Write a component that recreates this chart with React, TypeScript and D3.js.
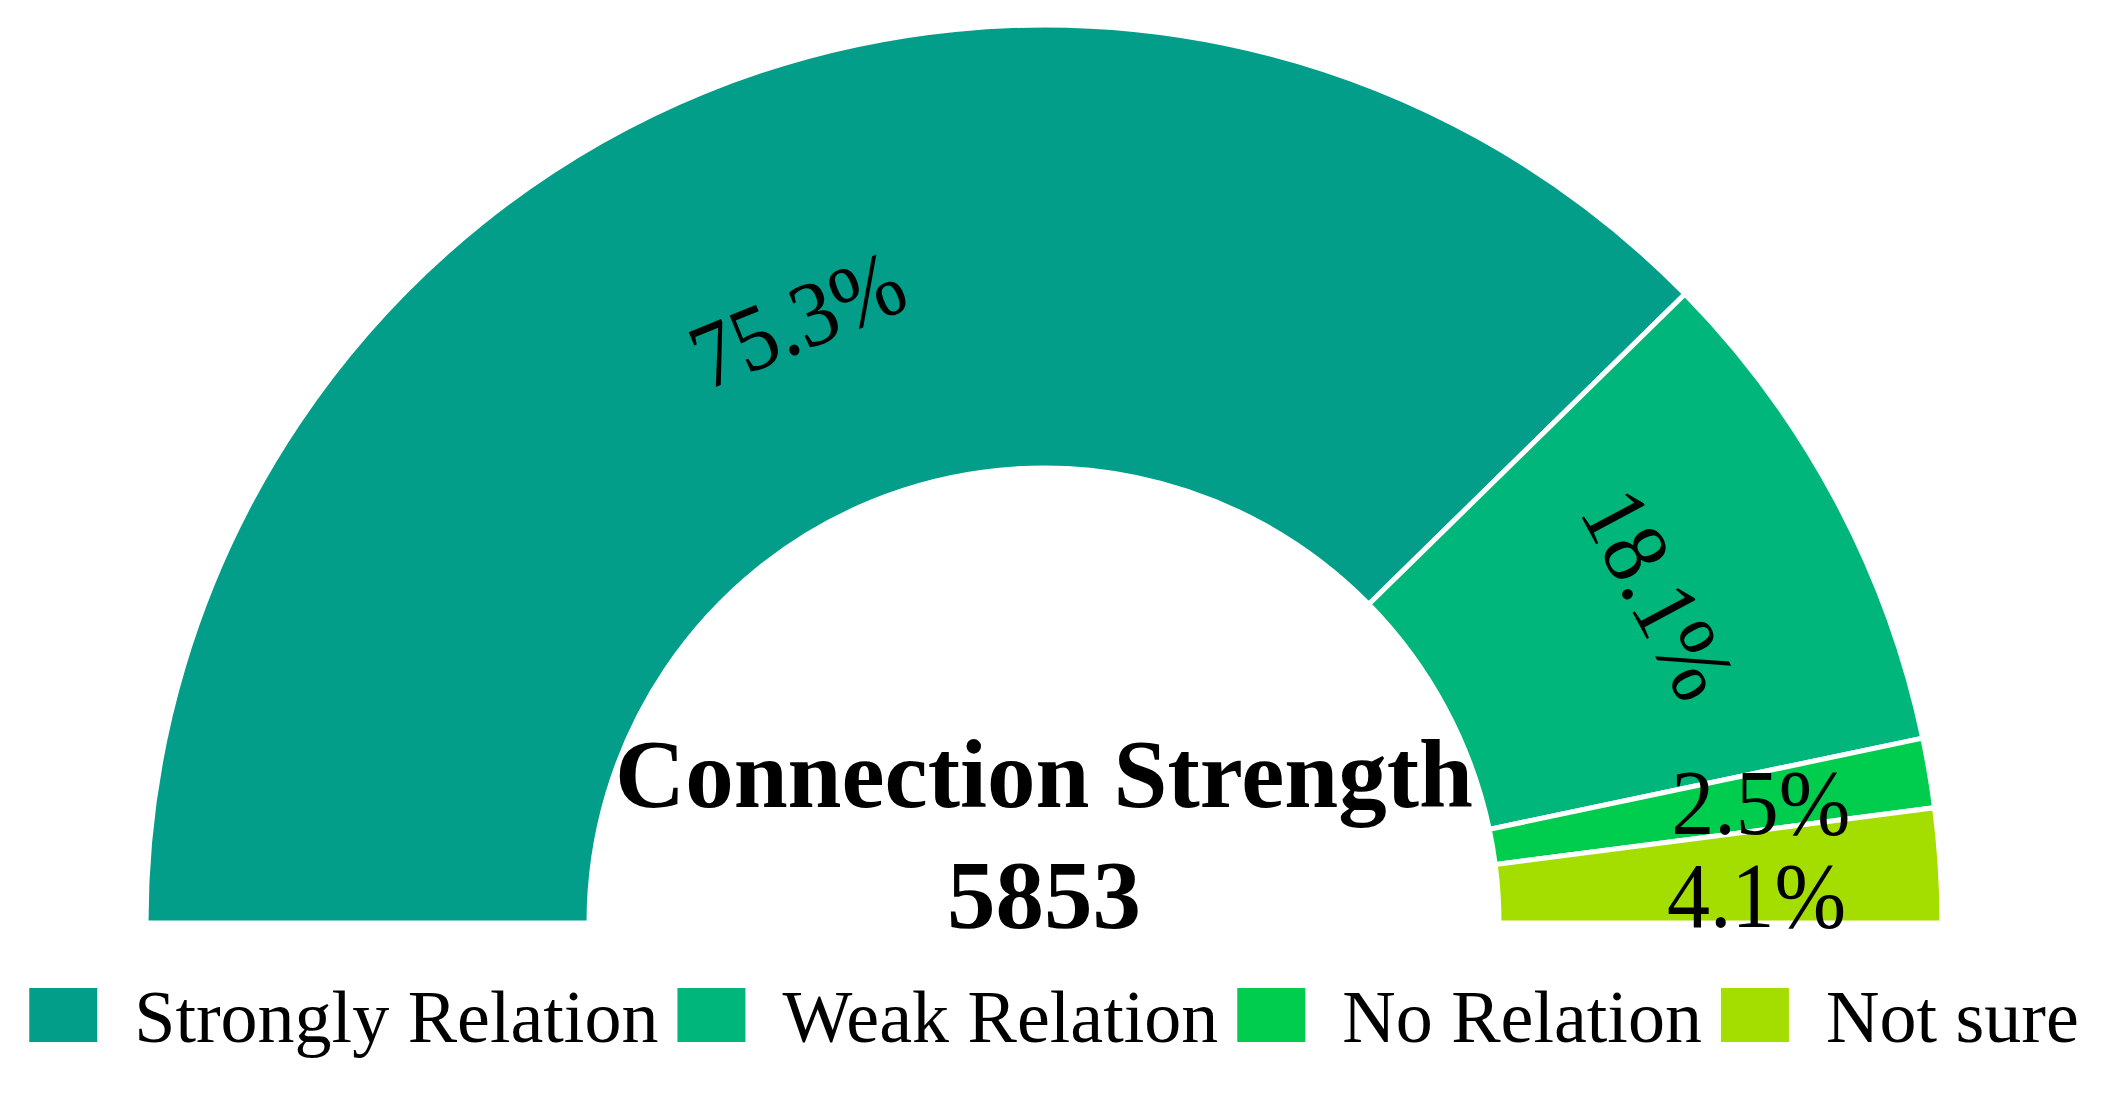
import React, { useEffect, useRef } from "react";
import * as d3 from "d3";

const categories = ["Strongly Relation", "Weak Relation", "No Relation", "Not sure"];
const percents = [75.3, 18.1, 2.5, 4.1];
const colors = ["#029E89", "#00B67A", "#00CC4E", "#A4DD00"];
const titleText = "Connection Strength";
const totalCount = 5853;

// label placement style (radius from centre, extra vertical shift)
const labelRadius = [653, 698, 727, 714];
const labelShiftY = [0, 0, 0, 17];

const W = 2108;
const H = 1100;
const FONT = "'Liberation Serif', 'Times New Roman', serif";

export default function App() {
  const ref = useRef<SVGSVGElement>(null);

  useEffect(() => {
    const svg = d3.select(ref.current);
    svg.selectAll("*").remove();

    const cx = 1044;
    const cy = 923;
    const outerR = 898;
    const innerR = 455;

    const pie = d3
      .pie<number>()
      .sort(null)
      .value((d) => d)
      .startAngle(-Math.PI / 2)
      .endAngle(Math.PI / 2);
    const arcs = pie(percents);
    const arc = d3.arc<d3.PieArcDatum<number>>().innerRadius(innerR).outerRadius(outerR);

    const g = svg.append("g").attr("transform", `translate(${cx},${cy})`);

    g.selectAll("path")
      .data(arcs)
      .join("path")
      .attr("d", arc)
      .attr("fill", (_, i) => colors[i])
      .attr("stroke", "#ffffff")
      .attr("stroke-width", 5)
      .attr("stroke-linejoin", "miter");

    // percentage labels
    g.selectAll("text.pct")
      .data(arcs)
      .join("text")
      .attr("class", "pct")
      .attr("transform", (d, i) => {
        const mid = (d.startAngle + d.endAngle) / 2;
        const span = d.endAngle - d.startAngle;
        const rotated = span > 0.2;
        const r = labelRadius[i];
        const x = Math.sin(mid) * r;
        const y = -Math.cos(mid) * r + labelShiftY[i];
        const rot = rotated ? (mid * 180) / Math.PI : 0;
        return `translate(${x},${y}) rotate(${rot}) scale(1,1.08)`;
      })
      .attr("text-anchor", "middle")
      .attr("dy", "0.35em")
      .attr("font-family", FONT)
      .attr("font-size", 86)
      .attr("fill", "#000")
      .text((d) => `${d.data.toFixed(1)}%`);

    // center title
    svg
      .append("text")
      .attr("x", cx)
      .attr("y", 807)
      .attr("text-anchor", "middle")
      .attr("font-family", FONT)
      .attr("font-weight", "bold")
      .attr("font-size", 97)
      .attr("fill", "#000")
      .text(titleText);
    svg
      .append("text")
      .attr("x", cx)
      .attr("y", 928)
      .attr("text-anchor", "middle")
      .attr("font-family", FONT)
      .attr("font-weight", "bold")
      .attr("font-size", 97)
      .attr("fill", "#000")
      .text(String(totalCount));

    // legend
    const legend = svg.append("g");
    const rectW = 68;
    const rectH = 54;
    const gapRT = 37;
    const gapTR = 19;
    const legendY = 988;
    const items = legend
      .selectAll("g.item")
      .data(categories)
      .join("g")
      .attr("class", "item");
    items
      .append("rect")
      .attr("width", rectW)
      .attr("height", rectH)
      .attr("y", legendY)
      .attr("fill", (_, i) => colors[i]);
    const texts = items
      .append("text")
      .attr("y", legendY + rectH)
      .attr("font-family", FONT)
      .attr("font-size", 74)
      .attr("fill", "#000")
      .text((d) => d);
    const widths: number[] = [];
    texts.each(function () {
      widths.push((this as SVGTextElement).getComputedTextLength());
    });
    let total = 0;
    widths.forEach((w, i) => {
      total += rectW + gapRT + w + (i < widths.length - 1 ? gapTR : 0);
    });
    let x = W / 2 - total / 2;
    items.each(function (_, i) {
      const it = d3.select(this);
      it.select("rect").attr("x", x);
      it.select("text").attr("x", x + rectW + gapRT);
      x += rectW + gapRT + widths[i] + gapTR;
    });
  }, []);

  return (
    <svg
      ref={ref}
      width={W}
      height={H}
      style={{ position: "absolute", left: 0, top: 0, background: "#fff" }}
    />
  );
}
